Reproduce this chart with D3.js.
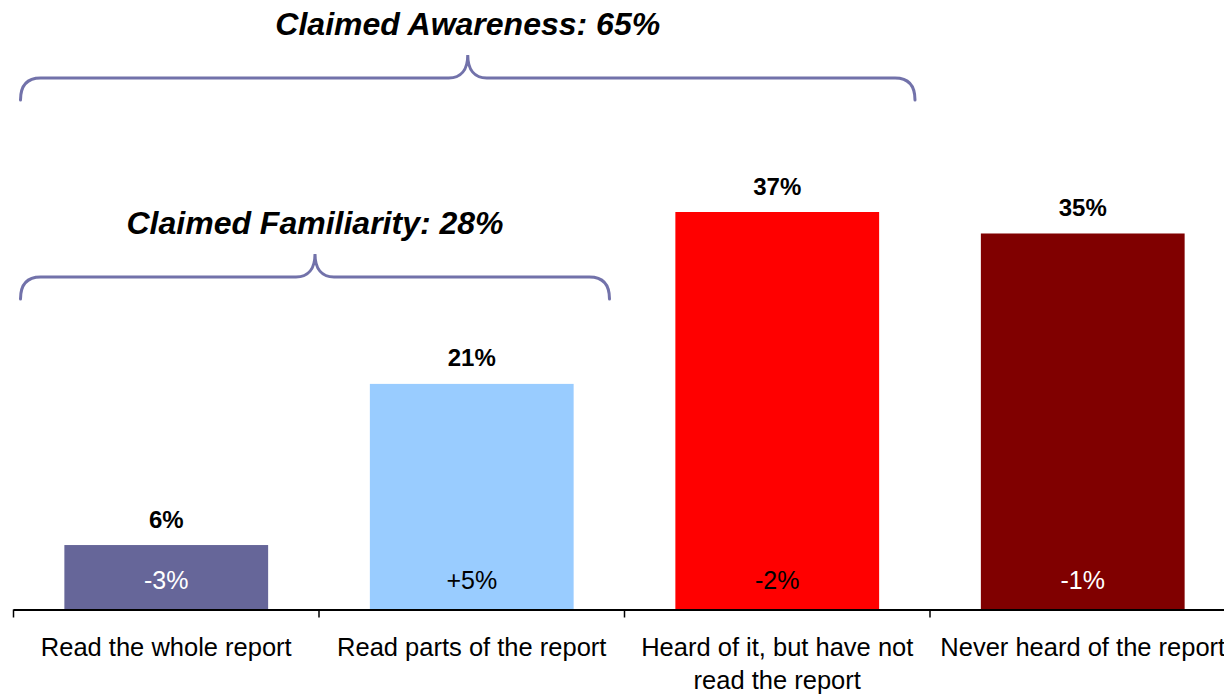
<!DOCTYPE html>
<html>
<head>
<meta charset="utf-8">
<script src="https://cdn.jsdelivr.net/npm/d3@7"></script>
<style>
  html, body { margin: 0; padding: 0; background: #ffffff; }
  svg { display: block; font-family: "Liberation Sans", Arial, Helvetica, sans-serif; }
</style>
</head>
<body>
<svg id="chart" width="1224" height="694"></svg>
<script>
// ---- data ----
const categories = ["Read the whole report", "Read parts of the report", "Heard of it, but have not read the report", "Never heard of the report"];
const categoryLines = [["Read the whole report"], ["Read parts of the report"], ["Heard of it, but have not", "read the report"], ["Never heard of the report"]];
const values = [6, 21, 37, 35];
const valueLabels = ["6%", "21%", "37%", "35%"];
const changeLabels = ["-3%", "+5%", "-2%", "-1%"];
const barColors = ["#666699", "#99ccff", "#ff0000", "#800000"];
const changeColors = ["#ffffff", "#000000", "#000000", "#ffffff"];
const bracketTitles = ["Claimed Awareness: 65%", "Claimed Familiarity: 28%"];
const bracketSpans = [[0, 2], [0, 1]]; // category index ranges covered
const bracketLevels = [78, 277];       // pixel heights of the brace lines

// ---- scales ----
const svg = d3.select("#chart");
const x = d3.scaleBand().domain(categories).range([13.5, 1235.5]).paddingInner(0.333).paddingOuter(0.1665);
const y = d3.scaleLinear().domain([0, 37]).range([609.5, 212]);
const gap = x.step() * x.paddingInner();

// ---- bars ----
svg.append("g").selectAll("rect").data(values).join("rect")
  .attr("x", (d, i) => x(categories[i]))
  .attr("y", d => y(d))
  .attr("width", x.bandwidth())
  .attr("height", d => y(0) - y(d))
  .attr("fill", (d, i) => barColors[i]);

// value labels above bars
svg.append("g").selectAll("text").data(values).join("text")
  .attr("x", (d, i) => x(categories[i]) + x.bandwidth() / 2)
  .attr("y", d => y(d) - 17.5)
  .attr("text-anchor", "middle")
  .attr("font-size", 24)
  .attr("font-weight", "bold")
  .attr("fill", "#000")
  .text((d, i) => valueLabels[i]);

// change labels inside bars
svg.append("g").selectAll("text").data(changeLabels).join("text")
  .attr("x", (d, i) => x(categories[i]) + x.bandwidth() / 2)
  .attr("y", y(0) - 21)
  .attr("text-anchor", "middle")
  .attr("font-size", 25)
  .attr("fill", (d, i) => changeColors[i])
  .text(d => d);

// ---- axis ----
const axisG = svg.append("g");
axisG.append("line")
  .attr("x1", x.range()[0]).attr("x2", 1224)
  .attr("y1", y(0) + 0.5).attr("y2", y(0) + 0.5)
  .attr("stroke", "#000").attr("stroke-width", 2);
const boundaries = categories.map(c => x(c) - gap / 2);
axisG.selectAll("line.tick").data(boundaries).join("line")
  .attr("class", "tick")
  .attr("x1", d => d).attr("x2", d => d)
  .attr("y1", y(0)).attr("y2", y(0) + 8)
  .attr("stroke", "#000").attr("stroke-width", 1.5);

// category labels
const catG = axisG.selectAll("text.cat").data(categoryLines).join("text")
  .attr("class", "cat")
  .attr("text-anchor", "middle")
  .attr("font-size", 25.5)
  .attr("fill", "#000");
catG.selectAll("tspan").data((d, i) => d.map(t => ({ t, i }))).join("tspan")
  .attr("x", d => x(categories[d.i]) + x.bandwidth() / 2)
  .attr("y", (d, j) => 656 + j * 33)
  .text(d => d.t);

// ---- braces ----
function bracePath(x1, x2, h) {
  const xm = (x1 + x2) / 2;
  const drop = 22, r = 20, up = 23, hw = 19;
  return `M${x1},${h + drop} C${x1},${h + 8} ${x1 + 6},${h} ${x1 + r},${h}` +
         ` L${xm - hw},${h}` +
         ` C${xm - 7},${h} ${xm},${h - 8} ${xm},${h - up}` +
         ` C${xm},${h - 8} ${xm + 7},${h} ${xm + hw},${h}` +
         ` L${x2 - r},${h}` +
         ` C${x2 - 6},${h} ${x2},${h + 8} ${x2},${h + drop}`;
}
const braceG = svg.append("g");
bracketSpans.forEach((span, k) => {
  const x1 = x(categories[span[0]]) - gap / 2 + 7;
  const x2 = x(categories[span[1]]) + x.bandwidth() + gap / 2 - 15;
  const h = bracketLevels[k];
  braceG.append("path")
    .attr("d", bracePath(x1, x2, h))
    .attr("fill", "none")
    .attr("stroke", "#7272aa")
    .attr("stroke-width", 3)
    .attr("stroke-linecap", "round");
  braceG.append("text")
    .attr("x", (x1 + x2) / 2)
    .attr("y", h - 43)
    .attr("text-anchor", "middle")
    .attr("font-size", 32)
    .attr("font-weight", "bold")
    .attr("font-style", "italic")
    .attr("fill", "#000")
    .text(bracketTitles[k]);
});
</script>
</body>
</html>
